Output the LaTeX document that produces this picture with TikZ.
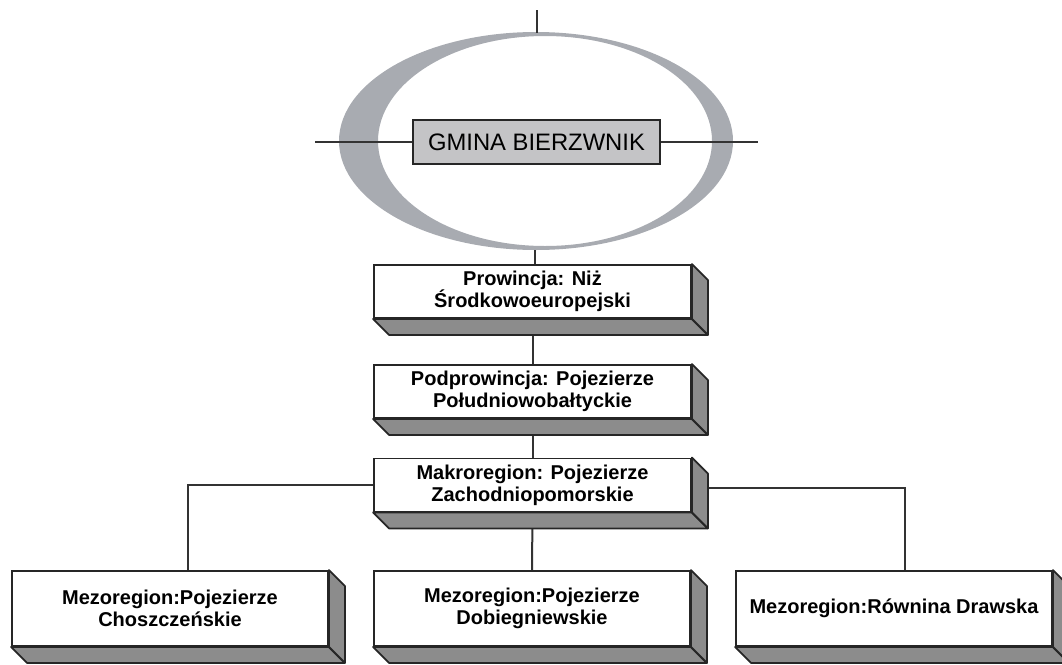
\documentclass[tikz,border=0pt]{standalone}
\usepackage{fontspec}
\setmainfont{Liberation Sans}
\usetikzlibrary{positioning}
\definecolor{ringgray}{RGB}{168,171,177}
\definecolor{boxgray}{RGB}{196,196,198}

\begin{document}
\begin{tikzpicture}[x=1pt,y=-1pt]
\tikzstyle{level}=[draw=black!85,line width=1.8pt,fill=white,inner sep=0pt,align=center,minimum width=317pt,minimum height=53pt,font=\bfseries\fontsize{20}{22}\selectfont]
\tikzstyle{meso}=[level,minimum width=316pt,minimum height=75pt]
\tikzstyle{link}=[draw=black!80,line width=2pt]
\tikzstyle{depth}=[fill=black!45,draw=black!85,line width=1.8pt,line join=round]
\useasboundingbox (0,0) rectangle (1062,664);
% ring round the gmina
\fill[ringgray,even odd rule] (536,141) ellipse [x radius=197, y radius=109]
    (545,141) ellipse [x radius=167, y radius=105];
\node [draw=black!85,line width=1.8pt,fill=boxgray,minimum width=247pt,minimum height=44pt,font=\fontsize{23.8}{26}\selectfont] (gmina) at (536.5,142) {GMINA BIERZWNIK};
\coordinate (crossW) at (315,142);
\coordinate (crossE) at (758,142);
\coordinate (crossN) at (537,10);
\coordinate (ringN) at (537,33);
\coordinate (ringS) at (535,250);
% levels
\node [level] (prow) at (532.5,291.5) {Prowincja: Niż\\Środkowoeuropejski};
\node [level] (podprow) at (532.5,391.5) {Podprowincja: Pojezierze\\Południowobałtyckie};
\node [level] (makro) at (532.5,485) {Makroregion: Pojezierze\\Zachodniopomorskie};
\node [meso] (choszcz) at (170,608.5) {Mezoregion:Pojezierze\\Choszczeńskie};
\node [meso] (dobieg) at (532,608.5) {Mezoregion:Pojezierze\\Dobiegniewskie};
\node [meso] (drawska) at (894,608.5) {Mezoregion:Równina Drawska};
\path[link]
    (crossW) edge (gmina.west)
    (gmina.east) edge (crossE)
    (crossN) edge (ringN)
    (ringS) edge (ringS |- prow.north)
    (prow.south) edge (podprow.north)
    (podprow.south) edge (makro.north)
    (makro.south) edge (dobieg.north);
\draw[link] (makro.west) -| ([shift={(18,0)}]choszcz.north);
\draw[link] ([shift={(0,3)}]makro.east) -| ([shift={(11,0)}]drawska.north);
% depth of the boxes
\foreach \b in {prow,podprow,makro,choszcz,dobieg,drawska}{
  \filldraw[depth] (\b.south west) -- (\b.south east) -- ([shift={(16,16)}]\b.south east) -- ([shift={(16,16)}]\b.south west) -- cycle;
  \filldraw[depth] (\b.north east) -- ([shift={(16,16)}]\b.north east) -- ([shift={(16,16)}]\b.south east) -- (\b.south east) -- cycle;
}
\end{tikzpicture}
\end{document}
